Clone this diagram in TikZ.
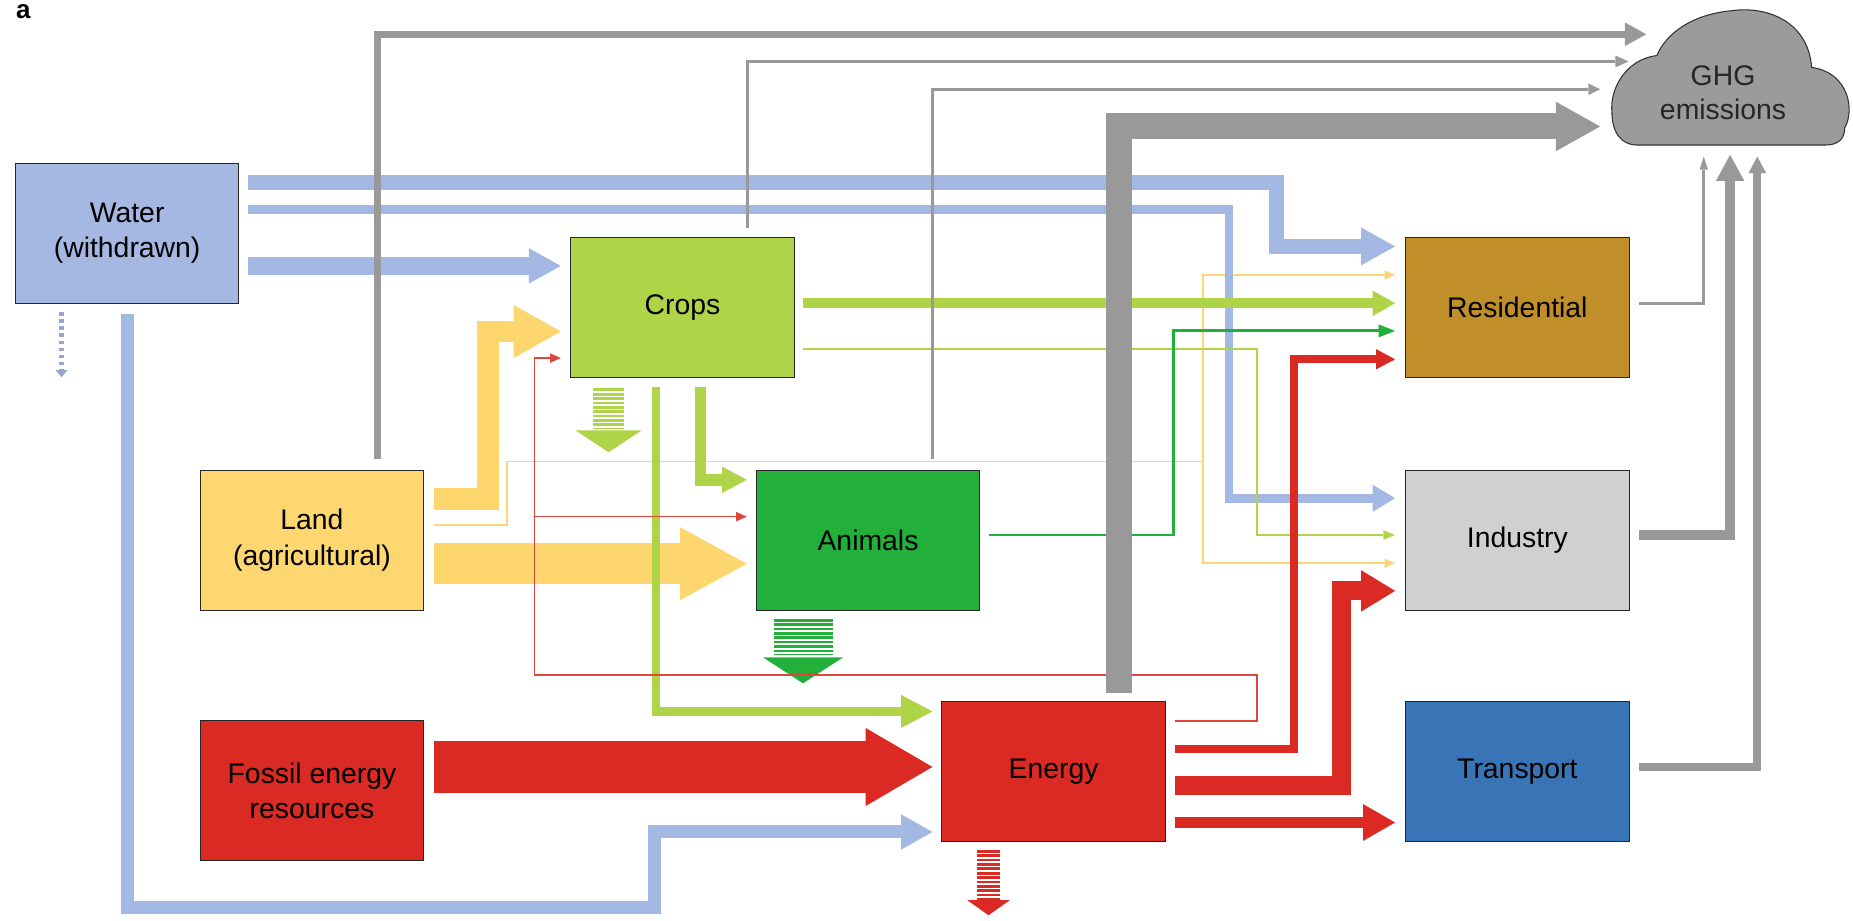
\documentclass[tikz,border=0pt]{standalone}
\usepackage{fontspec}
\setmainfont{Liberation Sans}
\usetikzlibrary{arrows.meta,calc}
\definecolor{cwater}{RGB}{164,184,226}
\definecolor{cwarr}{RGB}{163,185,227}
\definecolor{cwdash}{RGB}{150,165,205}
\definecolor{cland}{RGB}{254,215,112}
\definecolor{clarr}{RGB}{254,214,110}
\definecolor{clthin}{RGB}{253,212,120}
\definecolor{ccrop}{RGB}{175,212,72}
\definecolor{canim}{RGB}{35,176,58}
\definecolor{cred}{RGB}{218,42,35}
\definecolor{credthin}{RGB}{222,70,60}
\definecolor{cres}{RGB}{193,143,42}
\definecolor{cind}{RGB}{208,208,208}
\definecolor{ctrans}{RGB}{56,116,182}
\definecolor{cgray}{RGB}{153,153,153}
\definecolor{ccloud}{RGB}{155,155,155}
\begin{document}
\begin{tikzpicture}[x=1pt,y=-1pt,line join=miter,
  box/.style={draw=black!85,line width=0.9pt,minimum width=189pt,minimum height=118.5pt,inner sep=2pt,align=center,font=\fontsize{24}{30}\selectfont,text=black},
  arrhead/.style 2 args={-{Triangle[width=#1,length=#2,line width=0pt]}},
  hatch/.style={line width=#1,dash pattern=on 2.3pt off 1.4pt},
]
\useasboundingbox (0,0) rectangle (1568,779);

% label
\node[font=\bfseries\fontsize{22}{22}\selectfont,inner sep=0] (lbl) at (19.7,9.9) {a};

% boxes
\node[box,fill=cwater] (water) at (107.6,197.5) {Water\\(withdrawn)};
\node[box,fill=ccrop] (crops) at (577.5,260.5) {Crops};
\node[box,fill=cland] (land) at (264,457) {Land\\(agricultural)};
\node[box,fill=canim] (animals) at (734.5,457) {Animals};
\node[box,fill=cred] (fossil) at (264,669) {Fossil energy\\resources};
\node[box,fill=cred] (energy) at (891.5,653) {Energy};
\node[box,fill=cres] (resid) at (1284,260.5) {Residential};
\node[box,fill=cind] (indus) at (1284,457) {Industry};
\node[box,fill=ctrans] (trans) at (1284,653) {Transport};

% cloud
\fill[ccloud,draw=black!80,line width=0.9pt] (1385,122.7) -- (1545,122.7)
  .. controls (1556,122.7) and (1561,117) .. (1561,108)
  .. controls (1569,95) and (1566,62) .. (1533,57)
  .. controls (1530,18) and (1495,5) .. (1466,9)
  .. controls (1432,12) and (1410,28) .. (1402,47)
  .. controls (1376,50) and (1362,75) .. (1364,95)
  .. controls (1364,112) and (1372,122.7) .. (1385,122.7) -- cycle;
\node[font=\fontsize{24}{29}\selectfont,text=black!85,align=center,inner sep=0] (ghg) at (1458,78.7) {GHG\\emissions};

% yellow (land)
\draw[clarr,line width=18.5pt,arrhead={45pt}{40pt}] ($(land.east)+(8.4,-35)$) -| (413,280.5) -- ($(crops.west)+(-8,20)$);
\draw[clarr,line width=35pt,arrhead={62pt}{56.7pt}] ($(land.east)+(8.4,20)$) -- ($(animals.west)+(-7.6,20)$);
\draw[clthin,line width=1.5pt,arrhead={8pt}{9pt}] ($(land.east)+(8.4,-12.8)$) -| (429,390.6) -| (1017.7,232.7) -- ($(resid.west)+(-8.5,-27.8)$);
\draw[clthin,line width=1.5pt,arrhead={8pt}{9pt}] (1017.7,390.6) |- ($(indus.west)+(-8.5,19.6)$);

% blue (water)
\draw[cwarr,line width=12.5pt,arrhead={32pt}{28.7pt}] ($(water.east)+(7,-43)$) -| (1080,208.5) -- ($(resid.west)+(-8.5,-52)$);
\draw[cwarr,line width=7.5pt,arrhead={23pt}{19pt}] ($(water.east)+(7,-19.9)$) -| (1040,421.6) -- ($(indus.west)+(-8.5,-35.4)$);
\draw[cwarr,line width=15.5pt,arrhead={30pt}{27pt}] ($(water.east)+(7,27.5)$) -- ($(crops.west)+(-8,-35.5)$);
\draw[cwarr,line width=11pt,arrhead={30pt}{26.5pt}] ($(water.south)+(0,8.5)$) |- (554,768) |- ($(energy.west)+(-7.5,51)$);
\draw[cwdash,line width=4.5pt,dash pattern=on 3pt off 3pt,arrhead={10pt}{6pt}] ($(water.south)+(-55.5,7)$) -- ++(0,55);

% light green (crops)
\draw[ccrop,line width=8.5pt,arrhead={21.5pt}{19pt}] ($(crops.east)+(7.1,-3.9)$) -- ($(resid.west)+(-8.5,-3.9)$);
\draw[ccrop,line width=2pt,arrhead={8pt}{10pt}] ($(crops.east)+(7.1,35)$) -| (1063.8,452.7) -- ($(indus.west)+(-8.5,-4.3)$);
\draw[ccrop,line width=10pt,arrhead={22.5pt}{21pt}] ($(crops.south)+(15.2,7)$) |- ($(animals.west)+(-7.6,-51)$);
\draw[ccrop,line width=7pt,arrhead={28pt}{26.5pt}] ($(crops.south)+(-22.5,7)$) |- ($(energy.west)+(-7.5,-51)$);
\draw[ccrop,hatch=26pt] ($(crops.south)+(-62.5,8.5)$) -- ++(0,34);
\fill[ccrop] ($(crops.south)+(-90.5,44)$) -- ++(56,0) -- ++(-28,18.5) -- cycle;

% dark green (animals)
\draw[canim,line width=2.5pt,arrhead={11pt}{14pt}] ($(animals.east)+(7.4,-4.3)$) -| (993.2,280) -- ($(resid.west)+(-8.5,19.5)$);
\draw[canim,hatch=50pt] ($(animals.south)+(-54.5,7)$) -- ++(0,30);
\fill[canim] ($(animals.south)+(-89,39.5)$) -- ++(68,0) -- ++(-34,22) -- cycle;

% red (energy)
\draw[credthin,line width=1.3pt,arrhead={8pt}{9pt}] ($(energy.east)+(8,-43)$) -| (1063.8,571) -| (452.4,303) -- ($(crops.west)+(-8,42.5)$);
\draw[credthin,line width=1.3pt,arrhead={8pt}{9pt}] (452.4,437.2) -- ($(animals.west)+(-7.6,-19.8)$);
\draw[cred,line width=44pt,arrhead={66pt}{56.5pt}] ($(fossil.east)+(8,-20)$) -- ($(energy.west)+(-7.5,-4)$);
\draw[cred,line width=7pt,arrhead={17pt}{16pt}] ($(energy.east)+(8,-19)$) -| (1095,304) -- ($(resid.west)+(-8.5,43.5)$);
\draw[cred,line width=16pt,arrhead={35pt}{28.7pt}] ($(energy.east)+(8,12)$) -| (1135,500) -- ($(indus.west)+(-8.5,43)$);
\draw[cred,line width=10pt,arrhead={31pt}{27pt}] ($(energy.east)+(8,43)$) -- ($(trans.west)+(-8.5,43)$);
\draw[cred,hatch=20pt] ($(energy.south)+(-55,6.5)$) -- ++(0,42);
\fill[cred] ($(energy.south)+(-73,49)$) -- ++(36,0) -- ++(-18,12.8) -- cycle;

% gray (GHG)
\draw[cgray,line width=6pt,arrhead={20pt}{18pt}] ($(land.north)+(55.5,-9)$) |- ($(ghg)+(-65,-49.7)$);
\draw[cgray,line width=2.5pt,arrhead={10pt}{11pt}] ($(crops.north)+(55,-8)$) |- ($(ghg)+(-80,-26.7)$);
\draw[cgray,line width=2.5pt,arrhead={10pt}{10pt}] ($(animals.north)+(54.5,-8.5)$) |- ($(ghg)+(-104,-3.2)$);
\draw[cgray,line width=22pt,arrhead={42pt}{37.5pt}] ($(energy.north)+(55,-7)$) |- ($(ghg)+(-104,28.3)$);
\draw[cgray,line width=2.2pt,arrhead={7pt}{11pt}] ($(resid.east)+(8,-3.9)$) -| ($(ghg)+(-16.3,53.8)$);
\draw[cgray,line width=8.7pt,arrhead={24pt}{22pt}] ($(indus.east)+(8,-4.3)$) -| ($(ghg)+(6,52.3)$);
\draw[cgray,line width=6.5pt,arrhead={15pt}{14pt}] ($(trans.east)+(8,-4)$) -| ($(ghg)+(29,53.8)$);
\end{tikzpicture}
\end{document}
